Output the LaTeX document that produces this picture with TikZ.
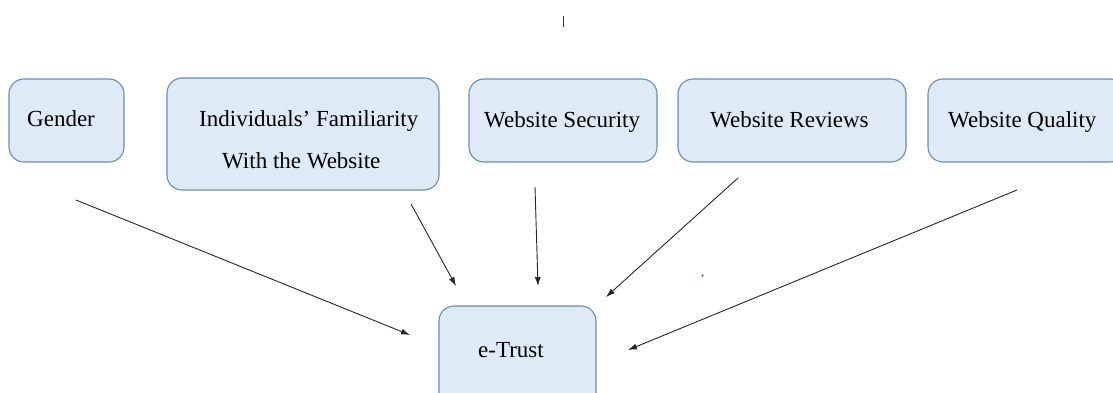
\documentclass[tikz,border=0pt]{standalone}
\usepackage{fontspec}
\setmainfont{Liberation Serif}
\usetikzlibrary{arrows.meta}
\definecolor{boxfill}{RGB}{222,234,246}
\definecolor{boxline}{RGB}{106,140,186}
\definecolor{dotblue}{RGB}{40,60,255}
\begin{document}
\begin{tikzpicture}[x=1pt,y=-1pt,
  box/.style={draw=boxline,fill=boxfill,line width=1.1pt,rounded corners=15pt},
  lbl/.style={anchor=base west,inner sep=0pt,font=\fontsize{23}{27}\selectfont},
  conn/.style={draw=black!85,line width=0.9pt,-{Latex[length=9pt,width=6pt]}}]
\useasboundingbox (0,0) rectangle (1113,393);
\clip (0,0) rectangle (1113,393);
% boxes
\path[box] (9,79) rectangle (124,162);
\node[inner sep=0pt] (gender) at (66.5,120.5) {};
\path[box] (167,78) rectangle (439,190);
\node[inner sep=0pt] (indiv) at (303,134) {};
\path[box] (469,79) rectangle (657,162);
\node[inner sep=0pt] (security) at (563,120.5) {};
\path[box] (678,79) rectangle (906,162);
\node[inner sep=0pt] (reviews) at (792,120.5) {};
\path[box] (928,79) rectangle (1125,162);
\node[inner sep=0pt] (quality) at (1020,120.5) {};
\path[box] (439,306) rectangle (596,410);
\node[inner sep=0pt] (etrust) at (517.5,350) {};
% labels
\node[lbl] (tgender) at (27,127) {Gender};
\node[lbl] (tindiv1) at (199,127) {Individuals’ Familiarity};
\node[lbl] (tindiv2) at (222,168) {With the Website};
\node[lbl] (tsecurity) at (484,128) {Website Security};
\node[lbl] (treviews) at (710,128) {Website Reviews};
\node[lbl] (tquality) at (948,128) {Website Quality};
\node[lbl] (tetrust) at (478,357) {e-Trust};
% connector end points
\coordinate (g1) at (76,200);   \coordinate (g2) at (410,335);
\coordinate (i1) at (411,204);  \coordinate (i2) at (456,286);
\coordinate (s1) at (535,187);  \coordinate (s2) at (538,286);
\coordinate (r1) at (738,178);  \coordinate (r2) at (606,297);
\coordinate (q1) at (1017,190); \coordinate (q2) at (628,350);
\draw[conn] (g1) -- (g2);
\draw[conn] (i1) -- (i2);
\draw[conn] (s1) -- (s2);
\draw[conn] (r1) -- (r2);
\draw[conn] (q1) -- (q2);
% stray marks
\coordinate (m1) at (563,16); \coordinate (m2) at (563,27);
\draw[black!75,line width=1pt] (m1) -- (m2);
\coordinate (dot) at (702.5,275.5);
\fill[dotblue] (dot) circle (1.1pt);
\end{tikzpicture}
\end{document}
